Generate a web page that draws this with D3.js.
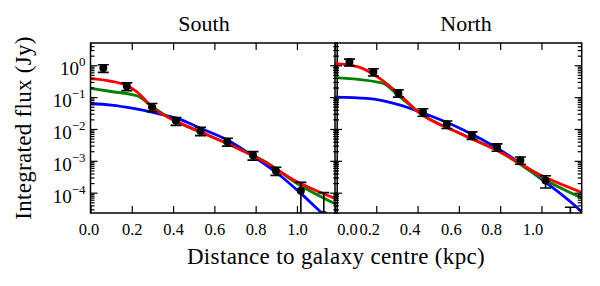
<!DOCTYPE html>
<html>
<head>
<meta charset="utf-8">
<script src="https://cdn.jsdelivr.net/npm/d3@7"></script>
<style>
  body { margin: 0; background: #fff; }
  text { font-family: "Liberation Serif", "DejaVu Serif", serif; fill: #000; }
</style>
</head>
<body>
<script>
var width = 600,
    height = 286;

// tick values
var xTicks = [0, 0.2, 0.4, 0.6, 0.8, 1.0];
var yTicks = [1, 0.1, 0.01, 0.001, 0.0001];
var yExp = ["0", "\u22121", "\u22122", "\u22123", "\u22124"];

// measured points, South
var southX = [0.062, 0.176, 0.298, 0.414, 0.533, 0.663, 0.787, 0.898, 1.019, 1.13];
var southY = [0.82, 0.22, 0.049, 0.018, 0.0087, 0.0040, 0.0015, 0.00049, 0.000115, 0.00002];
var southErr = [0.22, 0.06, 0.014, 0.005, 0.0025, 0.0011, 0.00045, 0.00014, 0.000095, 0.00008];

// measured points, North
var northX = [0.070, 0.186, 0.307, 0.426, 0.542, 0.664, 0.785, 0.898, 1.02, 1.14];
var northY = [1.26, 0.62, 0.135, 0.034, 0.014, 0.0064, 0.0027, 0.00105, 0.00024, 0.000018];
var northErr = [0.3, 0.16, 0.035, 0.009, 0.0037, 0.0017, 0.0007, 0.00027, 0.0001, 0.000017];

// model curves [x, flux]
var southBlue = [[0, 0.063], [0.1, 0.056], [0.208, 0.044], [0.322, 0.031], [0.42, 0.0215], [0.533, 0.0105],
  [0.663, 0.0045], [0.792, 0.00134], [0.906, 0.0004], [1.019, 0.000095], [1.125, 0.000022], [1.19, 0.00001]];
var southGreen = [[0, 0.19], [0.1, 0.15], [0.2, 0.12], [0.225, 0.11], [0.3, 0.05], [0.4, 0.019], [0.533, 0.008],
  [0.695, 0.0028], [0.857, 0.00085], [0.987, 0.00022], [1.19, 0.000043]];
var southRed = [[0, 0.38], [0.095, 0.32], [0.176, 0.23], [0.225, 0.145], [0.306, 0.044], [0.403, 0.019],
  [0.533, 0.0081], [0.695, 0.0028], [0.857, 0.00083], [0.987, 0.000245], [1.165, 0.000074], [1.19, 0.000063]];

var northBlue = [[0, 0.10], [0.154, 0.091], [0.316, 0.056], [0.413, 0.034], [0.607, 0.0104], [0.8, 0.0022],
  [0.995, 0.00028], [1.175, 0.000033], [1.2, 0.000023]];
var northGreen = [[0, 0.41], [0.226, 0.28], [0.316, 0.10], [0.404, 0.034], [0.607, 0.0072], [0.8, 0.0019],
  [1.0, 0.00029], [1.2, 0.000066]];
var northRed = [[0, 1.12], [0.113, 0.89], [0.218, 0.38], [0.316, 0.115], [0.404, 0.034], [0.607, 0.0072],
  [0.8, 0.0019], [0.995, 0.00036], [1.2, 0.0001]];

var panels = [
  {name: "South", left: 90.5, titleX: 204, x: southX, y: southY, err: southErr,
   models: [southBlue, southGreen, southRed], labelShift: [-2, 0, 0, 0, 0, 0]},
  {name: "North", left: 335, titleX: 466, x: northX, y: northY, err: northErr,
   models: [northBlue, northGreen, northRed], labelShift: [12, -7, -8, -8, -9, -9]}
];
var modelColors = ["#0000ff", "#008000", "#ff0000"];

var plotTop = 43, plotBottom = 213, pw = 246.7;

var svg = d3.select("body").append("svg")
    .attr("width", width)
    .attr("height", height);

var y = d3.scaleLog().domain([2.3e-5, 5]).range([plotBottom, plotTop]);

// minor ticks of the log axis
var minor = [];
for (var e = -5; e <= 0; e++) {
  for (var k = 2; k <= 9; k++) {
    var v = k * Math.pow(10, e);
    if (v > 2.3e-5 && v < 5) minor.push(v);
  }
}

panels.forEach(function(p, pi) {
  var x = d3.scaleLinear().domain([0, 1.195]).range([p.left, p.left + pw]);

  var g = svg.append("g");

  g.append("clipPath").attr("id", "clip" + pi)
    .append("rect").attr("x", p.left).attr("y", plotTop).attr("width", pw).attr("height", plotBottom - plotTop);

  var plot = g.append("g").attr("clip-path", "url(#clip" + pi + ")");

  var line = d3.line()
      .x(function(d) { return x(d[0]); })
      .y(function(d) { return y(d[1]); })
      .curve(d3.curveMonotoneX);

  p.models.forEach(function(m, i) {
    plot.append("path")
      .attr("d", line(m))
      .attr("fill", "none")
      .attr("stroke", modelColors[i])
      .attr("stroke-width", 2.8);
  });

  // error bars
  var pts = p.x.map(function(d, i) { return {x: d, y: p.y[i], e: p.err[i]}; });
  var eb = plot.selectAll(".eb").data(pts).enter().append("g");
  function yc(v) { return v > 0 ? y(v) : plotBottom + 10; }
  eb.append("line")
    .attr("x1", function(d) { return x(d.x); }).attr("x2", function(d) { return x(d.x); })
    .attr("y1", function(d) { return yc(d.y + d.e); })
    .attr("y2", function(d) { return yc(d.y - d.e); })
    .attr("stroke", "#000").attr("stroke-width", 1.6);
  [1, -1].forEach(function(s) {
    eb.append("line")
      .attr("x1", function(d) { return x(d.x) - 5.5; }).attr("x2", function(d) { return x(d.x) + 5.5; })
      .attr("y1", function(d) { return yc(d.y + s * d.e); })
      .attr("y2", function(d) { return yc(d.y + s * d.e); })
      .attr("stroke", "#000").attr("stroke-width", 1.6);
  });
  eb.append("circle")
    .attr("cx", function(d) { return x(d.x); })
    .attr("cy", function(d) { return y(d.y); })
    .attr("r", 4)
    .attr("fill", "#000");

  // ticks, all inward
  var xb = g.append("g").attr("transform", "translate(0," + plotBottom + ")")
    .call(d3.axisBottom(x).tickValues(xTicks).tickSize(-7).tickSizeOuter(0).tickPadding(10)
      .tickFormat(d3.format(".1f")));
  xb.selectAll("text")
    .style("font-size", "16.5px")
    .attr("dx", function(d, i) { return p.labelShift[i]; });
  g.append("g").attr("transform", "translate(0," + plotTop + ")")
    .call(d3.axisTop(x).tickValues(xTicks).tickSize(-7).tickSizeOuter(0).tickFormat(""));

  [["axisLeft", p.left], ["axisRight", p.left + pw]].forEach(function(a) {
    var ga = g.append("g").attr("transform", "translate(" + a[1] + ",0)");
    ga.append("g").call(d3[a[0]](y).tickValues(minor).tickSize(-4).tickSizeOuter(0).tickFormat(""));
    var maj = ga.append("g").call(d3[a[0]](y).tickValues(yTicks).tickSize(-7).tickSizeOuter(0).tickPadding(5).tickFormat(""));
    if (a[0] == "axisLeft" && pi == 0) {
      maj.selectAll(".tick text").each(function(d, i) {
        var t = d3.select(this).style("font-size", "19px").attr("dy", "0.5em");
        t.append("tspan").text("10");
        t.append("tspan").attr("dy", "-0.7em").style("font-size", "13px").text(yExp[i]);
      });
    }
  });
  g.selectAll(".domain").remove();
  g.selectAll(".tick line").attr("stroke", "#000").attr("stroke-width", 1.2);

  // frame
  g.append("rect")
    .attr("x", p.left).attr("y", plotTop).attr("width", pw).attr("height", plotBottom - plotTop)
    .attr("fill", "none").attr("stroke", "#000").attr("stroke-width", 1.5);

  g.append("text")
    .attr("x", p.titleX).attr("y", 31)
    .attr("text-anchor", "middle")
    .style("font-size", "22px")
    .text(p.name);
});

svg.append("text")
  .attr("x", 336).attr("y", 264)
  .attr("text-anchor", "middle")
  .style("font-size", "23px")
  .style("letter-spacing", "0.35px")
  .text("Distance to galaxy centre (kpc)");

svg.append("text")
  .attr("transform", "translate(31,128) rotate(-90)")
  .attr("text-anchor", "middle")
  .style("font-size", "23px")
  .style("letter-spacing", "0.3px")
  .text("Integrated flux (Jy)");
</script>
</body>
</html>
